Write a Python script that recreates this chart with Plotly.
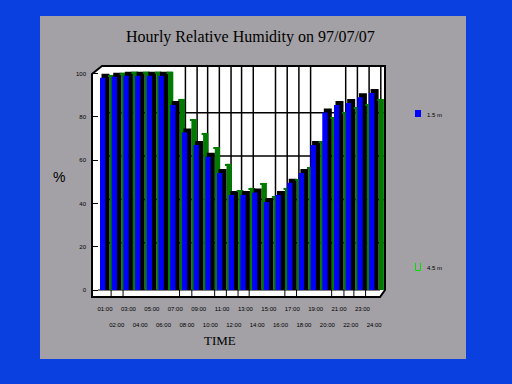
import plotly.graph_objects as go

hours = list(range(1, 25))
time_labels = [f"{h:02d}:00" for h in hours]
rh_15m = [98, 98.5, 99, 99, 99, 99, 85.4, 72.7, 67, 61.5, 54, 43.9,
          43.9, 45, 40.6, 43.9, 49.5, 54, 67, 82, 85.4, 86.4, 89, 91]
rh_45m = [97.5, 98.5, 99, 99, 99, 99, 86.4, 77.1, 70.7, 64.2, 56.4, 44.3,
          45.3, 47.6, 41.6, 45.3, 49.4, 54.9, 67, 78, 80.4, 82.7, 84, 86.4]
y_ticks = [0, 20, 40, 60, 80, 100]
grid_hours = [8.3, 9.3, 10.2, 11.2, 12.2, 13.1, 14.1, 16, 17, 18, 19, 22, 23, 24, 25]
floor_hours = [1.95, 2.97, 7.8, 8.85, 10.8, 11.8, 12.8, 13.75, 16.8, 17.8, 20.8, 21.85, 22.7, 23.7]

# pixel frame of the plot
L, R, T, B = 92, 385, 66, 297
W, H = 512, 384
STEP = 11.7
X0 = 1 - 8 / STEP
X1 = 1 + 285 / STEP
PX = 2.165
Y0 = -7 / PX
Y1 = 224 / PX
DEPTH = 4 / PX
u = 1 / STEP


def px(x):
    return (x - L) / (R - L)


def py(y):
    return (B - y) / (B - T)


fig = go.Figure()
for h, b, g in zip(hours, rh_15m, rh_45m):
    fig.add_bar(x=[h], y=[g + DEPTH], width=[5.3 * u], offset=[9.5 * u], marker_color="#007a00",
                marker_line_width=0, showlegend=False)
    fig.add_bar(x=[h], y=[b + DEPTH], width=[8.0 * u], offset=[1.5 * u], marker_color="#000000",
                marker_line_width=0, showlegend=False)
    fig.add_bar(x=[h], y=[1.5 / PX], base=[g + DEPTH - 1.5 / PX], width=[6 * u], offset=[8 * u],
                marker_color="#007a00", marker_line_width=0, showlegend=False)
    fig.add_bar(x=[h], y=[b], width=[5.3 * u], offset=[0], marker_color="#0000ff",
                marker_line_width=0, showlegend=False)

# carries the second row of time labels
fig.add_scatter(x=hours[1::2], y=[None] * 12, xaxis="x2", showlegend=False)

shapes = [
    dict(type="rect", xref="paper", yref="paper", x0=px(40), x1=px(466), y0=py(359), y1=py(16),
         fillcolor="#a3a1a6", line_width=0, layer="below"),
    dict(type="path", xref="paper", yref="paper",
         path=(f"M{px(92)},{py(74)} L{px(102)},{py(66)} L{px(385)},{py(66)} L{px(385)},{py(290)} "
               f"L{px(380)},{py(297)} L{px(92)},{py(297)} Z"),
         fillcolor="#ffffff", line=dict(color="#000000", width=2), layer="below"),
]
for t in y_ticks[1:-1]:
    shapes.append(dict(type="line", xref="paper", yref="y", x0=px(102), x1=px(385),
                       y0=t + DEPTH, y1=t + DEPTH, line=dict(color="#000000", width=1.5), layer="below"))
for g in grid_hours:
    shapes.append(dict(type="line", xref="x", yref="y", x0=g, x1=g, y0=0, y1=Y1,
                       line=dict(color="#000000", width=1.5), layer="below"))
for g in floor_hours:
    shapes.append(dict(type="line", xref="x", yref="y", x0=g, x1=g, y0=Y0, y1=0,
                       line=dict(color="#000000", width=1), layer="below"))
shapes.append(dict(type="line", xref="paper", yref="y", x0=px(98), x1=px(380), y0=0, y1=0,
                   line=dict(color="#000000", width=1), layer="below"))
# legend keys
shapes.append(dict(type="rect", xref="paper", yref="paper", x0=px(415), x1=px(421), y0=py(117), y1=py(110),
                   fillcolor="#0000ff", line_width=0))
shapes.append(dict(type="path", xref="paper", yref="paper",
                   path=f"M{px(415.5)},{py(263)} L{px(415.5)},{py(270.5)} L{px(420.5)},{py(270.5)} L{px(420.5)},{py(263)}",
                   line=dict(color="#00e000", width=1)))

small = dict(family="Liberation Sans", size=6, color="#000000")


def note(x, y, text, font):
    return dict(xref="paper", yref="paper", x=px(x), y=py(y), text=text, showarrow=False,
                xanchor="center", yanchor="middle", font=font)


annotations = [
    note(250, 37, "Hourly Relative Humidity on 97/07/07", dict(family="Liberation Serif", size=16, color="#000000")),
    note(220, 340, "TIME", dict(family="Liberation Serif", size=13, color="#000000")),
    note(59, 177, "%", dict(family="Liberation Sans", size=14, color="#000000")),
    note(434, 115, "1.5 m", small),
    note(434, 268, "4.5 m", small),
]

fig.update_layout(
    width=W, height=H, autosize=False,
    margin=dict(l=L, r=W - R, t=T, b=H - B, pad=0),
    paper_bgcolor="#0a3fe0", plot_bgcolor="rgba(0,0,0,0)",
    barmode="overlay", showlegend=False,
    shapes=shapes, annotations=annotations,
    xaxis=dict(range=[X0, X1], showgrid=False, zeroline=False, showline=False,
               tickmode="array", tickvals=[h + 0.43 for h in hours[0::2]], ticktext=time_labels[0::2],
               tickfont=small, ticks="outside", ticklen=6, tickcolor="rgba(0,0,0,0)", tickangle=0),
    xaxis2=dict(range=[X0, X1], overlaying="x", side="bottom", anchor="y", showgrid=False,
                zeroline=False, showline=False,
                tickmode="array", tickvals=[h + 0.43 for h in hours[1::2]], ticktext=time_labels[1::2],
                tickfont=small, ticks="outside", ticklen=22, tickcolor="rgba(0,0,0,0)", tickangle=0),
    yaxis=dict(range=[Y0, Y1], showgrid=False, zeroline=False, showline=False,
               tickmode="array", tickvals=y_ticks, tickfont=small,
               ticks="inside", ticklen=6, tickcolor="#000000", tickwidth=1, ticklabelstandoff=5),
)
fig.write_html("out.html", config={"displayModeBar": False},
               post_script="document.body.style.margin='0';document.body.style.background='#0a3fe0';")
